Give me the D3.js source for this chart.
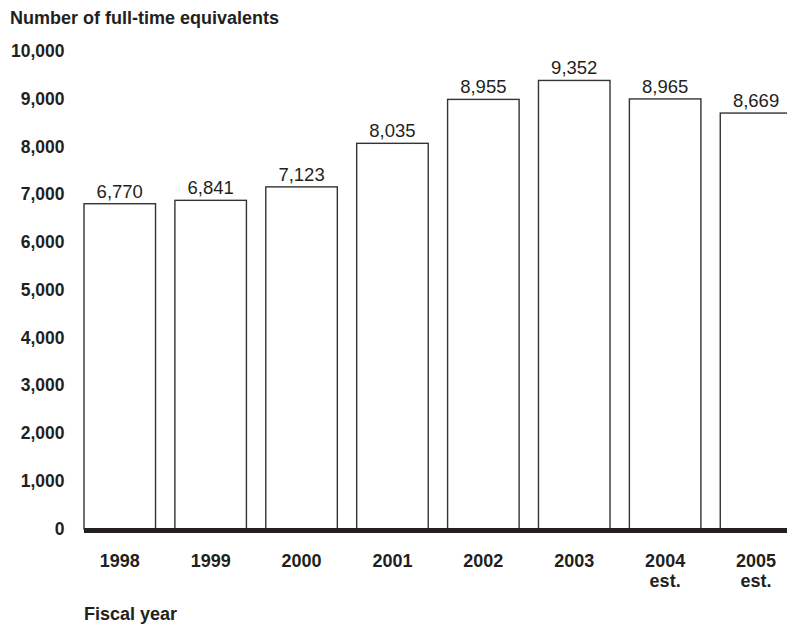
<!DOCTYPE html>
<html><head><meta charset="utf-8">
<script src="https://cdn.jsdelivr.net/npm/d3@7"></script>
<style>
body{margin:0;background:#fff;}
svg{display:block;font-family:"Liberation Sans",Arial,Helvetica,sans-serif;}
</style></head>
<body>
<script>
const years = ["1998","1999","2000","2001","2002","2003","2004","2005"];
const subLabels = ["","","","","","","est.","est."];
const values = [6770,6841,7123,8035,8955,9352,8965,8669];
const yTicks = [0,1000,2000,3000,4000,5000,6000,7000,8000,9000,10000];
const titleText = "Number of full-time equivalents";
const xTitleText = "Fiscal year";

const W = 787, H = 625;
const svg = d3.select("body").append("svg").attr("width", W).attr("height", H);
const ink = "#231f20";

const x = d3.scaleBand().domain(years).range([84, 84 + 7*90.9 + 71.5]).paddingInner(0.213).paddingOuter(0);
const y = d3.scaleLinear().domain([0, 10000]).range([527, 49.5]);

// title
svg.append("text").attr("x", 10).attr("y", 24).attr("font-size", 18).attr("font-weight", "bold")
  .attr("fill", ink).text(titleText);

// y axis labels
const fmt = d3.format(",");
const yAxis = d3.axisLeft(y).tickValues(yTicks).tickFormat(fmt).tickSize(0).tickPadding(0);
const gy = svg.append("g").attr("transform", "translate(64.5,1.5)").call(yAxis);
gy.select(".domain").remove();
gy.selectAll("text").attr("font-size", 17.5).attr("font-weight", "bold").attr("fill", ink)
  .attr("font-family", "'Liberation Sans',Arial,sans-serif");

// bars
svg.append("g").selectAll("rect").data(values).join("rect")
  .attr("x", (d,i) => x(years[i]))
  .attr("y", d => y(d))
  .attr("width", x.bandwidth())
  .attr("height", d => y(0) - y(d) + 2)
  .attr("fill", "#fff").attr("stroke", "#333").attr("stroke-width", 1.4);

// value labels
svg.append("g").selectAll("text").data(values).join("text")
  .attr("x", (d,i) => x(years[i]) + x.bandwidth()/2)
  .attr("y", d => y(d) - 6)
  .attr("text-anchor", "middle").attr("font-size", 18.5).attr("fill", ink)
  .text(d => fmt(d));

// baseline
svg.append("line").attr("x1", x.range()[0]).attr("x2", W + 10)
  .attr("y1", y(0) + 3.5).attr("y2", y(0) + 3.5)
  .attr("stroke", ink).attr("stroke-width", 5);

// x axis labels
const xAxis = d3.axisBottom(x).tickSize(0).tickPadding(0);
const gx = svg.append("g").attr("transform", "translate(0,567)").call(xAxis);
gx.select(".domain").remove();
gx.selectAll("text").attr("dy", 0).attr("font-size", 18).attr("font-weight", "bold").attr("fill", ink)
  .attr("font-family", "'Liberation Sans',Arial,sans-serif");
svg.append("g").selectAll("text").data(subLabels).join("text")
  .attr("x", (d,i) => x(years[i]) + x.bandwidth()/2)
  .attr("y", 587).attr("text-anchor", "middle").attr("font-size", 18).attr("font-weight", "bold").attr("fill", ink)
  .text(d => d);

// x title
svg.append("text").attr("x", 84).attr("y", 620).attr("font-size", 18).attr("font-weight", "bold")
  .attr("fill", ink).text(xTitleText);
</script>
</body></html>
